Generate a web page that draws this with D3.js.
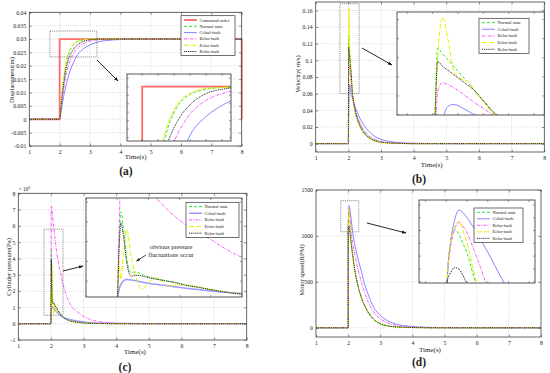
<!DOCTYPE html>
<meta charset="utf-8">
<style>
body { margin: 0; background: #fff; }
svg text { font-family: "Liberation Serif", "Times New Roman", serif; fill: #222; }
</style>
<body>
<script src="https://cdnjs.cloudflare.com/ajax/libs/d3/7.8.5/d3.min.js"></script>
<script>

// ---- data ----
var timeTicks = [1, 2, 3, 4, 5, 6, 7, 8];
var faultNames = ["Normal state", "Cebul-fault", "Bebu-fault", "Eebu-fault", "Rebu-fault"];

// (a) displacement (m)
var tDisp = [1, 2, 2.05, 2.1, 2.2, 2.3, 2.4, 2.5, 2.6, 2.8, 3.0, 3.2, 3.5, 4.0, 4.5, 5, 8];
var dispNormal = [0, 0, 0.006, 0.0115, 0.0200, 0.0245, 0.0270, 0.0284, 0.0291, 0.0297, 0.0299, 0.03, 0.03, 0.03, 0.03, 0.03, 0.03];
var dispCebul  = [0, 0, 0.003, 0.0065, 0.0122, 0.0165, 0.0198, 0.0222, 0.0243, 0.0265, 0.0278, 0.0287, 0.0294, 0.0298, 0.03, 0.03, 0.03];
var dispBebu   = [0, 0, 0.0045, 0.0088, 0.0160, 0.0205, 0.0235, 0.0254, 0.0268, 0.0284, 0.0292, 0.0296, 0.0299, 0.03, 0.03, 0.03, 0.03];
var dispEebu   = [0, 0, 0.0068, 0.0125, 0.0207, 0.0250, 0.0273, 0.0286, 0.0292, 0.0298, 0.0299, 0.03, 0.03, 0.03, 0.03, 0.03, 0.03];
var dispRebu   = [0, 0, 0.0052, 0.0102, 0.0182, 0.0228, 0.0252, 0.0268, 0.0279, 0.0292, 0.0297, 0.0299, 0.03, 0.03, 0.03, 0.03, 0.03];
var tCommand = [1, 2, 2, 8, 8];
var dispCommand = [0, 0, 0.03, 0.03, 0];
var dispTicks = [-0.01, -0.005, 0, 0.005, 0.01, 0.015, 0.02, 0.025, 0.03, 0.035, 0.04];

// (b) velocity (m/s)
var tVel = [1, 2, 2.005, 2.01, 2.02, 2.03, 2.04, 2.05, 2.06, 2.07, 2.08, 2.1, 2.12, 2.15, 2.2, 2.3, 2.4, 2.5, 2.7, 2.9, 3.2, 3.6, 4, 5, 8];
var velNormal = [0, 0, 0.07, 0.130, 0.124, 0.118, 0.112, 0.106, 0.100, 0.094, 0.087, 0.075, 0.063, 0.053, 0.042, 0.028, 0.019, 0.013, 0.006, 0.003, 0.001, 0.0003, 0, 0, 0];
var velCebul  = [0, 0, 0.015, 0.03, 0.055, 0.069, 0.071, 0.070, 0.067, 0.064, 0.061, 0.058, 0.055, 0.051, 0.045, 0.035, 0.027, 0.021, 0.012, 0.0068, 0.003, 0.0012, 0.0005, 0, 0];
var velBebu   = [0, 0, 0.03, 0.085, 0.094, 0.092, 0.089, 0.086, 0.082, 0.078, 0.074, 0.067, 0.060, 0.052, 0.042, 0.030, 0.021, 0.015, 0.0075, 0.0038, 0.0012, 0.0004, 0, 0, 0];
var velEebu   = [0, 0, 0.06, 0.12, 0.163, 0.14, 0.11, 0.10, 0.097, 0.095, 0.088, 0.074, 0.061, 0.050, 0.038, 0.025, 0.016, 0.011, 0.005, 0.002, 0.0008, 0.0002, 0, 0, 0];
var velRebu   = [0, 0, 0.06, 0.116, 0.111, 0.107, 0.103, 0.099, 0.095, 0.091, 0.087, 0.075, 0.063, 0.053, 0.041, 0.027, 0.018, 0.012, 0.0055, 0.0025, 0.001, 0.0003, 0, 0, 0];
var velTicks = [0, 0.02, 0.04, 0.06, 0.08, 0.1, 0.12, 0.14, 0.16];

// (c) cylinder pressure (x10^6 Pa)
var tPres = [1, 2, 2.005, 2.012, 2.02, 2.031, 2.045, 2.06, 2.072, 2.082, 2.1, 2.125, 2.146, 2.162, 2.19, 2.22, 2.26, 2.3, 2.35, 2.4, 2.5, 2.6, 2.8, 3.0, 3.3, 3.7, 4.2, 5, 8];
var presNormal = [0, 0, 2.5, 4.5, 3.7, 2.1, 1.42, 1.48, 1.4, 1.33, 1.22, 1.12, 1.06, 1.01, 0.93, 0.8, 0.7, 0.58, 0.45, 0.35, 0.24, 0.17, 0.09, 0.05, 0.02, 0.007, 0, 0, 0];
var presCebul  = [0, 0, 0.5, 0.85, 1.02, 1.08, 1.06, 1.02, 0.98, 0.95, 0.9, 0.84, 0.8, 0.77, 0.7, 0.64, 0.58, 0.5, 0.44, 0.38, 0.3, 0.24, 0.16, 0.1, 0.05, 0.02, 0.005, 0, 0];
var presBebu   = [0, 0, 3, 6.5, 7.2, 7.0, 6.7, 6.4, 6.2, 6.0, 5.65, 5.2, 4.85, 4.6, 4.2, 3.85, 3.45, 3.1, 2.6, 2.2, 1.6, 1.15, 0.75, 0.45, 0.2, 0.07, 0.02, 0, 0];
var presEebu   = [0, 0, 2.0, 1.1, 2.4, 3.6, 2.2, 1.25, 0.7, 0.62, 0.9, 1.17, 0.96, 0.74, 0.8, 0.8, 0.7, 0.57, 0.45, 0.35, 0.24, 0.17, 0.09, 0.05, 0.02, 0.007, 0, 0, 0];
var presRebu   = [0, 0, 2.2, 3.95, 3.3, 1.9, 1.25, 1.3, 1.28, 1.25, 1.18, 1.1, 1.04, 0.99, 0.91, 0.79, 0.69, 0.57, 0.44, 0.34, 0.23, 0.16, 0.085, 0.045, 0.018, 0.006, 0, 0, 0];
var presTicks = [-1, 0, 1, 2, 3, 4, 5, 6, 7, 8];

// (d) motor speed (RPM)
var tSpeed = [1, 2, 2.002, 2.01, 2.02, 2.03, 2.04, 2.05, 2.07, 2.1, 2.14, 2.2, 2.3, 2.4, 2.5, 2.6, 2.8, 3.0, 3.3, 3.7, 4.2, 5, 6, 8];
var speedNormal = [0, 0, 1050, 1200, 1255, 1235, 1200, 1160, 1050, 925, 800, 650, 470, 345, 255, 185, 92, 45, 18, 6, 2, 0, 0, 0];
var speedCebul  = [0, 0, 1050, 1200, 1290, 1330, 1320, 1300, 1250, 1165, 1045, 920, 760, 630, 490, 385, 220, 135, 65, 25, 10, 2, 0, 0];
var speedBebu   = [0, 0, 1050, 1185, 1255, 1281, 1268, 1240, 1160, 1030, 930, 810, 650, 510, 395, 300, 170, 100, 45, 14, 4, 0, 0, 0];
var speedEebu   = [0, 0, 1050, 1195, 1265, 1287, 1250, 1200, 1065, 930, 800, 650, 470, 345, 255, 185, 92, 45, 18, 6, 2, 0, 0, 0];
var speedRebu   = [0, 0, 1050, 1085, 1105, 1100, 1075, 1042, 990, 900, 790, 640, 465, 340, 250, 180, 90, 44, 17, 6, 2, 0, 0, 0];
var speedTicks = [0, 500, 1000, 1500];

// ---- styles ----
var lineStyle = {
  "Command order": {color: "#ff6a6a", w: 1.8, dash: null},
  "Normal state":  {color: "#2ee82e", w: 1,   dash: "3,2"},
  "Cebul-fault":   {color: "#7878ff", w: 0.9, dash: null},
  "Bebu-fault":    {color: "#ff3cff", w: 0.9, dash: "3,1.2,0.8,1.2"},
  "Eebu-fault":    {color: "#eded00", w: 1,   dash: "5,2"},
  "Rebu-fault":    {color: "#1a1a1a", w: 1,   dash: "1,0.9"}
};
// panel (c) draws the Cebul curve wider and lighter
var thickBlue = {color: "#9a9aff", w: 1.5, dash: null};

function seriesOf(t, vals) {
  return faultNames.map(function(n, i) { return {name: n, t: t, v: vals[i]}; });
}
var commandSeries = {name: "Command order", t: tCommand, v: dispCommand, linear: true};

var panels = [
  {letter: "(a)", left: 29.3, right: 241.7, top: 12.3, bottom: 146, yDomain: [-0.01, 0.04], yTicks: dispTicks,
   ylabel: "Displacement(m)", ylabelPos: [12, 80], xlabelPos: [135.7, 159], letterPos: [126, 175],
   series: [commandSeries].concat(seriesOf(tDisp, [dispNormal, dispCebul, dispBebu, dispEebu, dispRebu])),
   legend: {x: 181, y: 15.7, w: 54, rowH: 6.3, names: ["Command order"].concat(faultNames)},
   zoomRect: [1.68, 3.23, 0.0233, 0.033],
   inset: {left: 127, right: 231, top: 74, bottom: 141, x: [1.81, 3.11], y: [0.0236, 0.0315]},
   arrow: [[97, 60], [118, 81]]},
  {letter: "(b)", left: 315.7, right: 544.3, top: 2, bottom: 152, yDomain: [-0.01, 0.17], yTicks: velTicks,
   ylabel: "Velocity( m/s)", ylabelPos: [298, 74], xlabelPos: [431.7, 167], letterPos: [419, 183],
   series: seriesOf(tVel, [velNormal, velCebul, velBebu, velEebu, velRebu]),
   legend: {x: 479, y: 18.3, w: 50, rowH: 6.67, names: faultNames},
   zoomRect: [1.74, 2.33, 0.06, 0.168],
   inset: {left: 397, right: 544.3, top: 12, bottom: 115, x: [1.93, 2.22], y: [0.06, 0.168]},
   arrow: [[362, 48], [392, 65]]},
  {letter: "(c)", left: 18.3, right: 246.7, top: 193.3, bottom: 340, yDomain: [-1, 8], yTicks: presTicks,
   ylabel: "Cylinder pressure(Pa)", ylabelPos: [8.5, 267], xlabelPos: [135, 354], letterPos: [125, 371],
   series: seriesOf(tPres, [presNormal, presCebul, presBebu, presEebu, presRebu]),
   legend: {x: 186, y: 202.3, w: 53, rowH: 6.65, names: faultNames},
   zoomRect: [1.79, 2.37, 0.52, 5.8],
   inset: {left: 86, right: 242, top: 198, bottom: 297, x: [1.9, 2.4], y: [0.2, 5.2]},
   arrow: [[63, 271], [83, 266]], exponent: true, override: {"Cebul-fault": thickBlue}},
  {letter: "(d)", left: 316, right: 541, top: 190, bottom: 337, yDomain: [-100, 1500], yTicks: speedTicks,
   ylabel: "Motor speed(RPM)", ylabelPos: [301.7, 270], xlabelPos: [430, 352], letterPos: [419, 366],
   series: seriesOf(tSpeed, [speedNormal, speedCebul, speedBebu, speedEebu, speedRebu]),
   legend: {x: 474, y: 208, w: 49, rowH: 6.5, names: faultNames},
   zoomRect: [1.77, 2.33, 1045, 1383],
   inset: {left: 419, right: 535, top: 200, bottom: 283, x: [1.934, 2.214], y: [1045, 1369]},
   arrow: [[367, 223], [406, 233]]}
];

var svg = d3.select("body").append("svg")
  .attr("width", 550)
  .attr("height", 373);

var defs = svg.append("defs");
defs.append("marker")
  .attr("id", "arrowhead")
  .attr("viewBox", "0 0 10 10")
  .attr("refX", 9).attr("refY", 5)
  .attr("markerWidth", 5).attr("markerHeight", 5)
  .attr("orient", "auto")
  .append("path").attr("d", "M0,1.5L10,5L0,8.5z").attr("fill", "#111");

function fmtTick(v) { return String(+v.toFixed(4)); }

function styleFor(p, name) {
  return (p.override && p.override[name]) || lineStyle[name];
}

function drawLines(g, p, x, y) {
  p.series.forEach(function(s) {
    var st = styleFor(p, s.name);
    var pts = s.t.map(function(t, i) { return [t, s.v[i]]; });
    var line = d3.line()
      .x(function(d) { return x(d[0]); })
      .y(function(d) { return y(d[1]); })
      .curve(s.linear ? d3.curveLinear : d3.curveMonotoneX);
    g.append("path")
      .attr("d", line(pts))
      .attr("fill", "none")
      .attr("stroke", st.color)
      .attr("stroke-width", st.w)
      .attr("stroke-dasharray", st.dash);
  });
}

function drawLegend(g, p) {
  var lg = p.legend;
  var h = lg.rowH * lg.names.length + 2;
  g.append("rect")
    .attr("x", lg.x).attr("y", lg.y)
    .attr("width", lg.w).attr("height", h)
    .attr("fill", "#fff").attr("stroke", "#333").attr("stroke-width", 0.7);
  lg.names.forEach(function(n, i) {
    var st = styleFor(p, n);
    var yy = lg.y + 4.3 + i * lg.rowH;
    g.append("line")
      .attr("x1", lg.x + 3).attr("x2", lg.x + 16)
      .attr("y1", yy).attr("y2", yy)
      .attr("stroke", st.color).attr("stroke-width", st.w)
      .attr("stroke-dasharray", st.dash);
    g.append("text")
      .attr("x", lg.x + 18.5).attr("y", yy)
      .attr("dy", "0.33em")
      .attr("font-size", 4.6)
      .text(n);
  });
}

panels.forEach(function(p, pi) {
  var g = svg.append("g");
  var x = d3.scaleLinear().domain([1, 8]).range([p.left, p.right]);
  var y = d3.scaleLinear().domain(p.yDomain).range([p.bottom, p.top]);

  // grid
  g.selectAll(null).data(timeTicks.slice(1, -1)).enter().append("line")
    .attr("x1", function(d) { return x(d); }).attr("x2", function(d) { return x(d); })
    .attr("y1", p.top).attr("y2", p.bottom)
    .attr("stroke", "#c4c4c4").attr("stroke-width", 0.6).attr("stroke-dasharray", "1,1.3");
  g.selectAll(null).data(p.yTicks).enter().append("line")
    .attr("x1", p.left).attr("x2", p.right)
    .attr("y1", function(d) { return y(d); }).attr("y2", function(d) { return y(d); })
    .attr("stroke", "#c4c4c4").attr("stroke-width", 0.6).attr("stroke-dasharray", "1,1.3");

  drawLines(g, p, x, y);

  // axes (ticks pointing inward on all four sides)
  var axes = [
    g.append("g").attr("transform", "translate(0," + p.bottom + ")")
      .call(d3.axisBottom(x).tickValues(timeTicks).tickFormat(d3.format("d"))
        .tickSizeInner(-2.5).tickSizeOuter(0).tickPadding(4)),
    g.append("g").attr("transform", "translate(0," + p.top + ")")
      .call(d3.axisTop(x).tickValues(timeTicks).tickSizeInner(-2.5).tickSizeOuter(0).tickFormat("")),
    g.append("g").attr("transform", "translate(" + p.left + ",0)")
      .call(d3.axisLeft(y).tickValues(p.yTicks).tickSizeInner(-2.5).tickSizeOuter(0).tickPadding(3).tickFormat(fmtTick)),
    g.append("g").attr("transform", "translate(" + p.right + ",0)")
      .call(d3.axisRight(y).tickValues(p.yTicks).tickSizeInner(-2.5).tickSizeOuter(0).tickFormat(""))
  ];
  axes.forEach(function(a) {
    a.select(".domain").remove();
    a.selectAll("line").attr("stroke", "#444").attr("stroke-width", 0.6);
    a.selectAll("text").attr("font-size", 5.8).attr("font-family", "Liberation Serif").attr("fill", "#333");
  });

  g.append("rect")
    .attr("x", p.left).attr("y", p.top)
    .attr("width", p.right - p.left).attr("height", p.bottom - p.top)
    .attr("fill", "none").attr("stroke", "#444").attr("stroke-width", 0.8);

  if (p.exponent) {
    var ex = g.append("text").attr("x", p.left + 0.5).attr("y", p.top - 2.5).attr("font-size", 5.2).attr("fill", "#333");
    ex.append("tspan").text("\u00d7 10");
    ex.append("tspan").attr("dy", -2).attr("font-size", 3.8).text("6");
  }

  // labels
  g.append("text")
    .attr("transform", "translate(" + p.ylabelPos[0] + "," + p.ylabelPos[1] + ") rotate(-90)")
    .attr("text-anchor", "middle").attr("dy", "0.35em")
    .attr("font-size", 6.6)
    .text(p.ylabel);
  g.append("text")
    .attr("x", p.xlabelPos[0]).attr("y", p.xlabelPos[1])
    .attr("text-anchor", "middle").attr("font-size", 7)
    .text("Time(s)");
  g.append("text")
    .attr("x", p.letterPos[0]).attr("y", p.letterPos[1])
    .attr("text-anchor", "middle").attr("font-size", 11.5).attr("font-weight", "bold")
    .attr("fill", "#111")
    .text(p.letter);

  // zoom rectangle
  var zr = p.zoomRect;
  g.append("rect")
    .attr("x", x(zr[0])).attr("y", y(zr[3]))
    .attr("width", x(zr[1]) - x(zr[0])).attr("height", y(zr[2]) - y(zr[3]))
    .attr("fill", "none").attr("stroke", "#777").attr("stroke-width", 0.8)
    .attr("stroke-dasharray", "1.2,0.9");

  // arrow
  g.append("line")
    .attr("x1", p.arrow[0][0]).attr("y1", p.arrow[0][1])
    .attr("x2", p.arrow[1][0]).attr("y2", p.arrow[1][1])
    .attr("stroke", "#111").attr("stroke-width", 0.9)
    .attr("marker-end", "url(#arrowhead)");

  // inset
  var ins = p.inset;
  var ix = d3.scaleLinear().domain(ins.x).range([ins.left, ins.right]);
  var iy = d3.scaleLinear().domain(ins.y).range([ins.bottom, ins.top]);
  var gi = g.append("g");
  gi.append("rect")
    .attr("x", ins.left).attr("y", ins.top)
    .attr("width", ins.right - ins.left).attr("height", ins.bottom - ins.top)
    .attr("fill", "#fff");
  var clipId = "clip" + pi;
  defs.append("clipPath").attr("id", clipId).append("rect")
    .attr("x", ins.left).attr("y", ins.top)
    .attr("width", ins.right - ins.left).attr("height", ins.bottom - ins.top);
  var gl = gi.append("g").attr("clip-path", "url(#" + clipId + ")");
  drawLines(gl, p, ix, iy);
  // inset ticks
  var iyT = iy.ticks(7), ixT = ix.ticks(6);
  gi.selectAll(null).data(iyT).enter().append("line")
    .attr("x1", ins.left).attr("x2", ins.left + 2)
    .attr("y1", function(d) { return iy(d); }).attr("y2", function(d) { return iy(d); })
    .attr("stroke", "#444").attr("stroke-width", 0.5);
  gi.selectAll(null).data(iyT).enter().append("line")
    .attr("x1", ins.right).attr("x2", ins.right - 2)
    .attr("y1", function(d) { return iy(d); }).attr("y2", function(d) { return iy(d); })
    .attr("stroke", "#444").attr("stroke-width", 0.5);
  gi.selectAll(null).data(ixT).enter().append("line")
    .attr("y1", ins.bottom).attr("y2", ins.bottom - 2)
    .attr("x1", function(d) { return ix(d); }).attr("x2", function(d) { return ix(d); })
    .attr("stroke", "#444").attr("stroke-width", 0.5);
  gi.selectAll(null).data(ixT).enter().append("line")
    .attr("y1", ins.top).attr("y2", ins.top + 2)
    .attr("x1", function(d) { return ix(d); }).attr("x2", function(d) { return ix(d); })
    .attr("stroke", "#444").attr("stroke-width", 0.5);
  gi.append("rect")
    .attr("x", ins.left).attr("y", ins.top)
    .attr("width", ins.right - ins.left).attr("height", ins.bottom - ins.top)
    .attr("fill", "none").attr("stroke", "#444").attr("stroke-width", 0.9);

  drawLegend(g, p);
});

// annotation in (c)
var note = svg.append("text").attr("text-anchor", "middle").attr("font-size", 6.3).attr("fill", "#222");
note.append("tspan").attr("x", 171).attr("y", 248.5).text("obvious pressure");
note.append("tspan").attr("x", 171).attr("y", 257).text("fluctuations occur");
svg.append("line")
  .attr("x1", 146).attr("y1", 255).attr("x2", 136.5).attr("y2", 261)
  .attr("stroke", "#111").attr("stroke-width", 0.8)
  .attr("marker-end", "url(#arrowhead)");

</script>
</body>
